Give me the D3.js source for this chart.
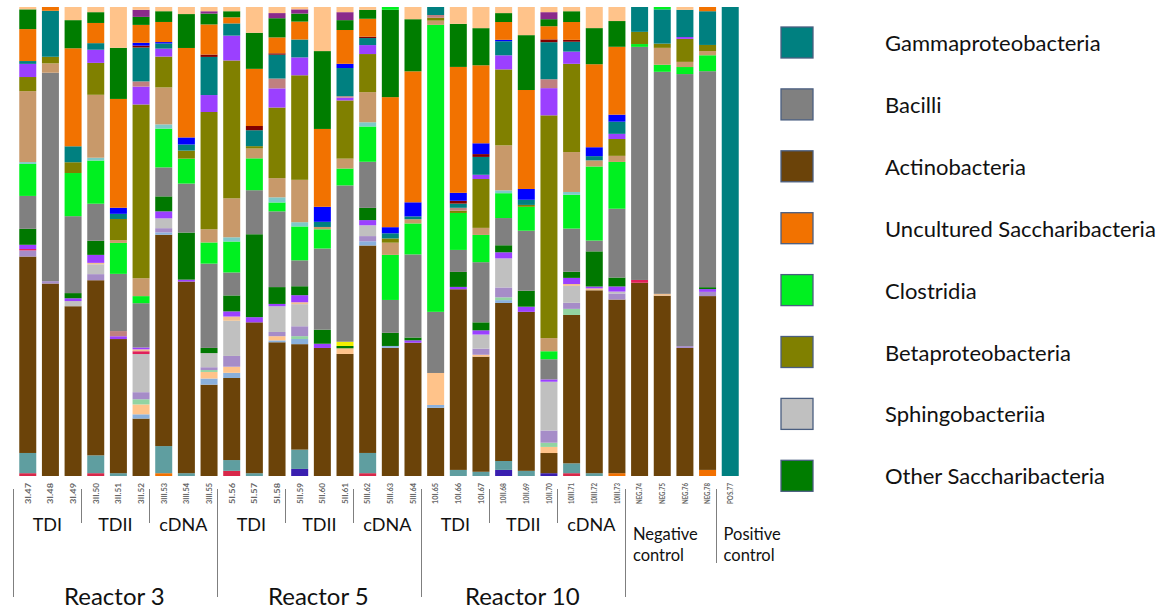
<!DOCTYPE html>
<html>
<head>
<meta charset="utf-8">
<script src="https://cdn.jsdelivr.net/npm/d3@7"></script>
<style>
  body { margin: 0; background: #fff; }
  svg { display: block; font-family: Lato, "Open Sans", sans-serif; }
</style>
</head>
<body>
<svg width="1157" height="613"></svg>
<script>
// sample names, left to right
var samples = ["3I.47", "3I.48", "3I.49", "3II.50", "3II.51", "3II.52", "3III.53", "3III.54", "3III.55",
  "5I.56", "5I.57", "5I.58", "5II.59", "5II.60", "5II.61", "5III.62", "5III.63", "5III.64",
  "10I.65", "10I.66", "10I.67", "10II.68", "10II.69", "10II.70", "10III.71", "10III.72", "10III.73",
  "NEG.74", "NEG.75", "NEG.76", "NEG.78", "POS.77"];

// relative abundance (%) per class, one value per sample
var orangeLow    = [0,0,0,0,0,0,.6,0,0,0, 0,0,0,0,0,0,0,0,0,0, 0,0,0,0,0,0,.6,0,0,0, 1.3,0];
var blueLow      = [0,0,0,0,0,0,0,0,0,0, 0,0,1.5,0,0,0,0,0,0,0, 0,1.3,0,.6,0,0,0,0,0,0, 0,0];
var crimsonLow   = [.6,0,0,.6,0,0,0,0,0,1.1, 0,0,0,0,0,.6,0,0,0,0, 0,0,0,0,.6,0,0,0,0,0, 0,0];
var cadet        = [4.3,0,0,3.8,.6,0,5.8,.6,0,2.3, .6,0,4.1,0,0,4.3,0,0,0,1.3, .9,1.9,1.1,0,2.1,.6,0,0,0,0, 0,0];
var actinobacteria = [41.8,41.0,36.2,37.3,28.6,12.2,45.2,40.7,19.4,17.5, 32.2,28.6,22.4,27.3,26.0,44.1,27.3,28.4,14.5,38.6,
  24.5,33.7,33.9,4.3,31.6,39.0,37.1,41.2,38.4,27.3, 37.1,0];
var lightBlue    = [0,0,0,0,0,.9,.5,0,1.3,1.1, 0,.4,1.1,0,0,.9,.4,0,.6,0, 0,.6,0,0,0,0,0,0,0,0, 0,0];
var peachLow     = [0,0,0,0,0,2.1,0,0,1.4,1.3, 0,.9,0,0,1.2,0,0,0,6.8,0, .4,0,0,1.3,0,0,0,0,0,0, 0,0];
var paleGreen    = [0,0,0,0,0,1.1,0,0,.4,0, 0,0,.6,0,0,0,0,0,0,0, 0,.6,0,.9,1.3,0,0,0,0,0, 0,0];
var lavender     = [1.3,.5,0,1.3,0,1.5,.9,0,.6,2.3, 0,.9,2.1,0,0,1.1,0,0,0,0, 1.3,2.1,0,2.6,1.3,0,1.3,0,0,.4, .9,0];
var sphingobacteriia = [0,0,1.1,2.1,0,8.1,2.1,0,3.0,7.5, 0,5.5,4.7,0,0,2.3,0,0,0,0, 3.0,6.2,0,10.4,3.6,0,.4,0,0,0, 0,0];
var crimsonMid   = [.3,0,0,0,0,.6,0,0,0,0, 0,0,0,0,0,0,0,0,0,0, 0,0,0,0,0,0,0,.6,0,0, 0,0];
var peachMid     = [0,0,0,.3,0,.4,0,0,0,.9, 0,0,.4,0,0,0,0,0,0,0, 0,0,0,0,.4,.4,0,0,.4,0, 0,0];
var violetLow    = [.9,0,.6,1.7,.6,.4,1.5,.4,0,1.1, 1.1,.5,1.5,.9,0,1.1,0,.5,0,.5, .9,1.3,1.1,.5,1.3,.4,1.1,0,0,0, .6,0];
var roseLow      = [0,0,0,0,1.1,0,0,0,0,0, 0,0,0,0,0,0,0,0,0,0, 0,0,0,0,0,0,0,0,0,0, 0,0];
var darkGreenLow = [3.4,0,1.1,3.0,0,0,3.2,10.0,1.1,3.4, 17.7,3.6,1.9,3.0,.5,2.6,2.8,.6,0,3.2, 1.7,1.5,3.4,0,1.3,7.5,1.9,0,0,0, .4,0];
var yellow       = [0,0,0,0,0,0,0,0,0,0, 0,0,0,0,.9,0,0,0,0,0, 0,0,0,0,0,0,0,0,0,0, 0,0];
var bacilli      = [7.0,44.4,16.4,7.9,12.2,9.4,6.2,10.4,17.9,4.9, 9.4,16.2,5.5,17.3,33.3,9.8,7.0,17.7,13.0,4.7,
  12.8,5.8,12.8,4.3,9.2,2.3,14.7,49.7,47.3,58.0, 46.1,0];
var clostridia   = [6.8,0,9.2,9.2,6.6,1.5,8.3,5.3,4.5,6.6, 6.8,1.9,7.2,4.1,3.6,7.5,9.6,6.6,61.0,7.9,
  5.8,5.3,5.1,1.7,7.2,15.8,10.0,.6,1.5,1.5, 3.4,0];
var lightCyan    = [.4,0,0,.6,0,0,.9,0,0,.9, 0,1.1,.9,0,0,.9,0,0,0,0, 0,.6,0,0,.6,0,0,0,0,0, 0,0];
var tan          = [15.1,2.0,0,13.4,.6,3.8,7.9,0,2.8,8.3, 2.1,4.1,9.0,.5,2.1,6.4,2.6,.9,.9,0, 1.5,9.6,0,2.8,8.5,1.3,1.3,0,3.6,1.1, .9,0];
var betaproteobacteria = [3.0,1.4,2.3,6.8,4.5,36.9,6.6,1.7,24.9,29.4, .5,15.1,22.2,0,12.4,8.1,.9,0,.6,.5,
  10.4,16.2,.4,47.5,18.8,0,3.6,2.6,.9,4.9, 1.3,0];
var violet       = [2.8,0,0,2.8,0,3.8,1.7,0,3.6,5.3, 0,4.1,3.8,0,.6,1.9,0,0,0,0, .9,3.0,0,5.8,2.6,0,1.1,0,0,.4, 0,0];
var rose         = [0,0,0,0,0,1.1,0,0,0,0, 0,2.1,0,0,.3,0,0,0,.6,.6, 0,0,0,1.9,0,0,0,0,0,0, 0,0];
var gammaproteobacteria = [.6,9.8,3.4,1.4,1.1,7.2,1.1,1.3,8.1,2.6, 3.4,5.1,3.8,1.1,6.0,1.5,1.1,.6,1.7,.9,
  3.8,3.0,1.1,7.9,2.1,.9,2.6,5.3,7.3,5.8, 7.2,100];
var darkRed      = [0,0,0,0,0,.4,0,0,.5,0, .9,.3,0,0,0,.3,0,0,0,.6, .6,0,0,.6,.4,0,0,0,0,0, 0,0];
var blue         = [0,0,0,0,1.3,.6,.3,1.5,0,0, 0,0,0,3.2,.9,0,1.3,3.0,0,1.7, 2.3,.3,2.3,0,0,1.9,1.5,0,0,0, 0,0];
var unculturedSaccharibacteria = [6.8,.8,20.9,4.3,23.2,3.8,4.3,19.0,6.4,1.3, 12.2,3.4,3.8,16.6,7.2,3.8,27.7,27.9,0,26.9,
  16.6,3.8,21.1,2.8,3.8,17.7,14.5,0,0,0, .9,0];
var otherSaccharibacteria = [4.2,0,6.0,2.3,10.9,1.7,2.3,7.2,2.3,1.3, 7.7,4.1,1.7,16.6,2.1,1.9,18.6,11.1,0,9.2,
  7.9,1.9,11.7,1.5,2.3,7.7,5.5,0,0,0, 0,0];
var darkMagenta  = [0,0,0,0,0,1.5,0,0,.5,0, 0,1.1,.9,0,1.7,0,0,0,0,0, 0,0,0,1.5,0,0,0,0,0,0, 0,0];
var peachTop     = [.5,0,2.8,1.1,8.7,.6,.9,1.5,.9,.9, 5.5,1.3,.5,9.4,1.1,.6,0,2.6,0,3.6, 4.5,1.3,6.0,1.1,.9,4.5,3.0,0,0,.6, 0,0];
var greenTop     = [0,0,0,0,0,0,0,0,0,0, 0,0,0,0,0,0,.6,0,0,0, 0,0,0,0,0,0,0,0,.5,0, 0,0];

// stacking order, bottom to top
var taxa = ["orangeLow", "blueLow", "crimsonLow", "cadet", "Actinobacteria", "lightBlue", "peachLow", "paleGreen",
  "lavender", "Sphingobacteriia", "crimsonMid", "peachMid", "violetLow", "roseLow", "darkGreenLow", "yellow",
  "Bacilli", "Clostridia", "lightCyan", "tan", "Betaproteobacteria", "violet", "rose", "Gammaproteobacteria",
  "darkRed", "blue", "Uncultured Saccharibacteria", "Other Saccharibacteria", "darkMagenta", "peachTop", "greenTop"];
var taxaValues = [orangeLow, blueLow, crimsonLow, cadet, actinobacteria, lightBlue, peachLow, paleGreen,
  lavender, sphingobacteriia, crimsonMid, peachMid, violetLow, roseLow, darkGreenLow, yellow,
  bacilli, clostridia, lightCyan, tan, betaproteobacteria, violet, rose, gammaproteobacteria,
  darkRed, blue, unculturedSaccharibacteria, otherSaccharibacteria, darkMagenta, peachTop, greenTop];
var taxaColors = ["#f27000", "#3a1fb0", "#d8284a", "#5f9ea0", "#6b4309", "#8ab0dc", "#ffc38a", "#92d4a2",
  "#a68cc8", "#c0c0c0", "#e0205a", "#f0c090", "#9b40ff", "#c08080", "#007800", "#f2f000",
  "#808080", "#00f020", "#7fc8c8", "#c8996a", "#808000", "#9b40ff", "#c08080", "#008080",
  "#800000", "#0000ff", "#f27200", "#007d00", "#8b2a8b", "#ffc38a", "#00f020"];

var legendNames = ["Gammaproteobacteria", "Bacilli", "Actinobacteria", "Uncultured Saccharibacteria",
  "Clostridia", "Betaproteobacteria", "Sphingobacteriia", "Other Saccharibacteria"];

// sample groups under the axis
var treatments = [
  { label: "TDI", first: "3I.47", last: "3I.49" },
  { label: "TDII", first: "3II.50", last: "3II.52" },
  { label: "cDNA", first: "3III.53", last: "3III.55" },
  { label: "TDI", first: "5I.56", last: "5I.58" },
  { label: "TDII", first: "5II.59", last: "5II.61" },
  { label: "cDNA", first: "5III.62", last: "5III.64" },
  { label: "TDI", first: "10I.65", last: "10I.67" },
  { label: "TDII", first: "10II.68", last: "10II.70" },
  { label: "cDNA", first: "10III.71", last: "10III.73" }
];
var reactors = [
  { label: "Reactor 3", first: "3I.47", last: "3III.55" },
  { label: "Reactor 5", first: "5I.56", last: "5III.64" },
  { label: "Reactor 10", first: "10I.65", last: "10III.73" }
];
var controls = [
  { lines: ["Negative", "control"], first: "NEG.74" },
  { lines: ["Positive", "control"], first: "POS.77" }
];
var separators = [
  { before: "3I.47", kind: "long" }, { before: "3II.50", kind: "short" }, { before: "3III.53", kind: "short" },
  { before: "5I.56", kind: "long" }, { before: "5II.59", kind: "short" }, { before: "5III.62", kind: "short" },
  { before: "10I.65", kind: "long" }, { before: "10II.68", kind: "short" }, { before: "10III.71", kind: "short" },
  { before: "NEG.74", kind: "long" }, { before: "POS.77", kind: "mid" }
];

var rows = samples.map(function(s, i) {
  var r = { sample: s };
  taxa.forEach(function(t, k) { r[t] = taxaValues[k][i]; });
  return r;
});

var svg = d3.select("svg");

var x = d3.scaleBand().domain(samples).range([17, 741]).paddingInner(0.25).paddingOuter(0.1);
var y = d3.scaleLinear().domain([0, 1]).range([476, 7]);
var color = d3.scaleOrdinal().domain(taxa).range(taxaColors);

var stack = d3.stack().keys(taxa).offset(d3.stackOffsetExpand);
var series = stack(rows);

svg.append("g").selectAll("g")
  .data(series)
  .join("g")
  .attr("fill", function(d) { return color(d.key); })
  .selectAll("rect")
  .data(function(d) { return d; })
  .join("rect")
  .attr("x", function(d) { return x(d.data.sample); })
  .attr("y", function(d) { return y(d[1]); })
  .attr("width", x.bandwidth())
  .attr("height", function(d) { return Math.max(0, y(d[0]) - y(d[1])); });

// sample labels
var xAxis = d3.axisBottom(x).tickSize(0).tickPadding(0);
var ax = svg.append("g").attr("transform", "translate(0,476)").call(xAxis);
ax.select(".domain").remove();
ax.selectAll("text")
  .attr("transform", "translate(0,7) rotate(-90)")
  .attr("x", 0).attr("y", 0).attr("dy", "0.35em")
  .attr("text-anchor", "end")
  .attr("textLength", 21)
  .attr("lengthAdjust", "spacingAndGlyphs")
  .attr("fill", "#666")
  .style("font-size", "8px")
  .style("font-weight", "bold")
  .style("font-family", "Lato, sans-serif");

// separators
var gapOffset = x.step() - x.bandwidth() + 0.5;
var lineEnd = { long: 597, short: 523, mid: 563 };
svg.append("g").selectAll("line")
  .data(separators)
  .join("line")
  .attr("x1", function(d) { return Math.round(x(d.before) - gapOffset) + 0.5; })
  .attr("x2", function(d) { return Math.round(x(d.before) - gapOffset) + 0.5; })
  .attr("y1", 489)
  .attr("y2", function(d) { return lineEnd[d.kind]; })
  .attr("stroke", "#7f7f7f")
  .attr("stroke-width", 1);

function groupCenter(d) {
  return (x(d.first) + x(d.last) + x.bandwidth()) / 2;
}

svg.append("g").selectAll("text")
  .data(treatments)
  .join("text")
  .attr("x", function(d) { return groupCenter(d) - 3; })
  .attr("y", 531)
  .attr("text-anchor", "middle")
  .attr("fill", "#111")
  .style("font-size", "18px")
  .text(function(d) { return d.label; });

svg.append("g").selectAll("text")
  .data(reactors)
  .join("text")
  .attr("x", function(d) { return groupCenter(d) - 4; })
  .attr("y", 605)
  .attr("text-anchor", "middle")
  .attr("fill", "#111")
  .style("font-size", "24px")
  .text(function(d) { return d.label; });

var ctrl = svg.append("g").selectAll("text")
  .data(controls)
  .join("text")
  .attr("x", function(d) { return x(d.first) - gapOffset + 8; })
  .attr("y", 540)
  .attr("fill", "#111")
  .style("font-size", "16.5px");
ctrl.selectAll("tspan")
  .data(function(d) { return d.lines; })
  .join("tspan")
  .attr("x", function() { return this.parentNode.getAttribute("x"); })
  .attr("dy", function(d, i) { return i ? 21 : 0; })
  .text(function(d) { return d; });

// legend
var legend = svg.append("g").selectAll("g")
  .data(legendNames)
  .join("g")
  .attr("transform", function(d, i) { return "translate(781," + (27 + i * 61.9) + ")"; });
legend.append("rect")
  .attr("width", 32).attr("height", 31)
  .attr("fill", function(d) { return color(d); })
  .attr("stroke", "#4a5e80").attr("stroke-width", 1.3);
legend.append("text")
  .attr("x", 104).attr("y", 24)
  .attr("fill", "#111")
  .style("font-size", "22px")
  .text(function(d) { return d; });
</script>
</body>
</html>
